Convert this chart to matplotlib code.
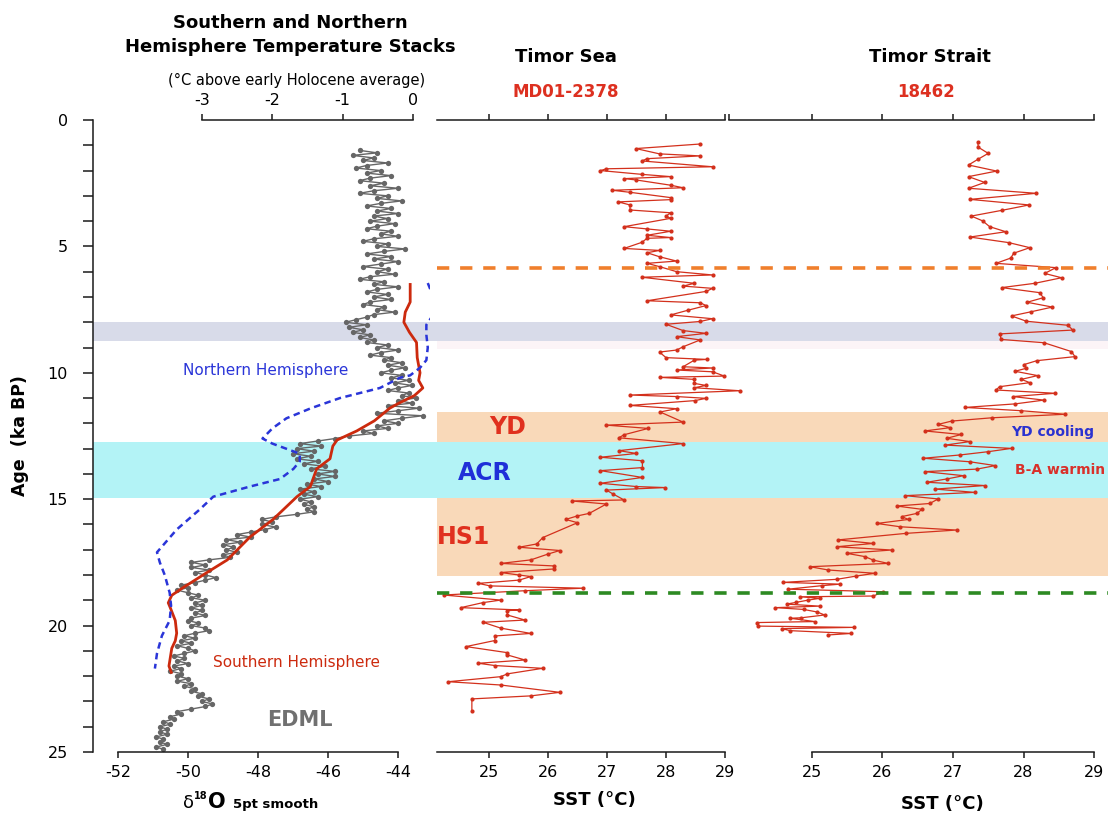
import matplotlib
matplotlib.use('Agg')
import matplotlib.pyplot as plt

# ---------------- data ----------------
edml_age = [1.2,1.3,1.4,1.5,1.6,1.7,1.8,1.9,2.0,2.1,
            2.2,2.3,2.4,2.5,2.6,2.7,2.8,2.9,3.0,3.1,
            3.2,3.3,3.4,3.5,3.6,3.7,3.8,3.9,4.0,4.1,
            4.2,4.3,4.4,4.5,4.6,4.7,4.8,4.9,5.0,5.1,
            5.2,5.3,5.4,5.5,5.6,5.7,5.8,5.9,6.0,6.1,
            6.2,6.3,6.4,6.5,6.6,6.7,6.8,6.9,7.0,7.1,
            7.2,7.3,7.4,7.5,7.6,7.7,7.8,7.9,8.0,8.1,
            8.2,8.3,8.4,8.5,8.6,8.7,8.8,8.9,9.0,9.1,
            9.2,9.3,9.4,9.5,9.6,9.7,9.8,9.9,10.0,10.1,
            10.2,10.3,10.4,10.5,10.6,10.7,10.8,10.9,11.0,11.1,
            11.2,11.3,11.4,11.5,11.6,11.7,11.8,11.9,12.0,12.1,
            12.2,12.3,12.4,12.5,12.6,12.7,12.8,12.9,13.0,13.1,
            13.2,13.3,13.4,13.5,13.6,13.7,13.8,13.9,14.0,14.1,
            14.2,14.3,14.4,14.5,14.6,14.7,14.8,14.9,15.0,15.1,
            15.2,15.3,15.4,15.5,15.6,15.7,15.8,15.9,16.0,16.1,
            16.2,16.3,16.4,16.5,16.6,16.7,16.8,16.9,17.0,17.1,
            17.2,17.3,17.4,17.5,17.6,17.7,17.8,17.9,18.0,18.1,
            18.2,18.3,18.4,18.5,18.6,18.7,18.8,18.9,19.0,19.1,
            19.2,19.3,19.4,19.5,19.6,19.7,19.8,19.9,20.0,20.1,
            20.2,20.3,20.4,20.5,20.6,20.7,20.8,20.9,21.0,21.1,
            21.2,21.3,21.4,21.5,21.6,21.7,21.8,21.9,22.0,22.1,
            22.2,22.3,22.4,22.5,22.6,22.7,22.8,22.9,23.0,23.1,
            23.2,23.3,23.4,23.5,23.6,23.7,23.8,23.9,24.0,24.1,
            24.2,24.3,24.4,24.5,24.6,24.7,24.8,24.9]
edml_d18o = [-45.1,-44.6,-45.3,-44.7,-45.0,-44.3,-44.9,-45.2,-44.5,-44.9,
             -44.2,-44.8,-45.1,-44.4,-44.8,-44.0,-44.7,-45.1,-44.3,-44.6,
             -43.9,-44.5,-44.9,-44.2,-44.6,-44.0,-44.7,-44.3,-44.8,-44.1,
             -44.6,-44.9,-44.2,-44.5,-44.0,-44.7,-45.0,-44.3,-44.6,-43.8,
             -44.4,-44.9,-44.2,-44.7,-44.0,-44.5,-45.0,-44.3,-44.6,-44.1,
             -44.8,-45.1,-44.4,-44.7,-44.0,-44.6,-44.9,-44.3,-44.7,-44.2,
             -44.8,-45.0,-44.4,-44.6,-44.1,-44.7,-44.9,-45.2,-45.5,-44.9,
             -45.4,-45.0,-45.3,-44.8,-45.1,-44.7,-44.9,-44.3,-44.6,-44.0,
             -44.5,-44.8,-44.2,-44.4,-43.9,-44.3,-43.8,-44.2,-44.5,-43.9,
             -44.2,-43.7,-44.1,-43.6,-44.0,-44.3,-43.7,-43.9,-43.5,-44.0,
             -43.6,-44.3,-43.4,-44.0,-44.6,-43.3,-43.9,-44.4,-44.0,-44.6,
             -44.3,-45.0,-44.7,-45.4,-45.8,-46.3,-46.8,-46.2,-46.9,-46.4,
             -47.0,-46.5,-46.9,-46.3,-46.7,-46.1,-46.5,-45.8,-46.3,-45.8,
             -46.4,-46.0,-46.6,-46.2,-46.8,-46.4,-46.7,-46.3,-46.8,-46.5,
             -46.7,-46.4,-46.6,-46.4,-46.9,-47.5,-47.9,-47.6,-47.9,-47.5,
             -47.8,-48.2,-48.6,-48.2,-48.9,-48.5,-49.0,-48.7,-48.9,-48.6,
             -49.0,-48.8,-49.4,-49.9,-49.5,-49.9,-49.4,-49.8,-49.5,-49.2,
             -49.5,-49.8,-50.2,-50.0,-50.3,-50.0,-49.7,-49.9,-49.5,-49.8,
             -49.6,-49.9,-49.6,-49.8,-49.5,-49.9,-50.0,-49.7,-49.9,-49.5,
             -49.4,-49.8,-50.1,-49.8,-50.2,-49.9,-50.3,-50.0,-49.8,-50.1,
             -50.4,-50.1,-50.3,-50.0,-50.4,-50.2,-50.5,-50.2,-50.3,-50.0,
             -50.3,-49.9,-50.1,-49.8,-49.9,-49.6,-49.7,-49.4,-49.6,-49.3,
             -49.5,-49.9,-50.3,-50.2,-50.5,-50.4,-50.7,-50.5,-50.8,-50.6,
             -50.8,-50.6,-50.9,-50.7,-50.8,-50.6,-50.9,-50.7]

sh_age = [6.45,7.2,7.6,8.0,8.4,8.8,9.4,10.0,10.3,10.6,10.9,11.2,11.4,11.9,12.3,12.66,
          12.9,13.4,13.8,14.5,14.9,15.8,16.5,17.4,17.9,18.5,18.8,19.1,19.3,19.8,20.3,
          20.6,20.9,21.6,21.9]
sh_temp = [-0.04,-0.04,-0.11,-0.13,-0.05,0.05,0.06,0.10,0.08,0.14,0.02,-0.20,-0.33,-0.55,
           -0.80,-1.08,-1.14,-1.18,-1.37,-1.46,-1.65,-1.99,-2.32,-2.64,-2.93,-3.27,-3.43,
           -3.48,-3.45,-3.38,-3.36,-3.38,-3.43,-3.47,-3.43]

nh_age = [6.45,7.0,7.7,8.1,8.5,9.0,9.5,9.8,10.1,10.2,10.6,11.0,11.4,11.8,12.2,12.6,12.8,
          13.2,13.5,13.8,14.2,14.5,14.9,15.4,16.2,17.1,17.5,18.0,18.7,19.2,19.8,20.4,
          21.1,21.7]
nh_temp = [0.21,0.29,0.29,0.19,0.19,0.21,0.19,0.10,-0.04,-0.19,-0.47,-1.04,-1.45,-1.80,
           -2.00,-2.14,-2.00,-1.61,-1.61,-1.70,-1.89,-2.32,-2.84,-3.03,-3.36,-3.64,-3.60,
           -3.53,-3.46,-3.44,-3.46,-3.57,-3.64,-3.67]

sea_age = [0.95,1.13,1.34,1.42,1.53,1.62,1.85,1.93,2.00,2.15,2.24,2.32,2.37,2.58,2.68,2.78,
           2.86,3.07,3.15,3.24,3.36,3.56,3.67,3.80,3.89,4.22,4.31,4.40,4.56,4.65,4.68,4.84,
           5.08,5.16,5.25,5.41,5.58,5.67,5.80,6.00,6.13,6.22,6.46,6.57,6.66,6.78,7.15,7.23,
           7.34,7.52,7.71,7.86,7.97,8.08,8.33,8.44,8.57,8.70,8.97,9.10,9.18,9.40,9.47,9.50,
           9.76,9.81,9.89,9.96,10.13,10.18,10.26,10.42,10.50,10.59,10.71,10.88,10.94,11.01,
           11.10,11.29,11.42,11.55,11.95,12.07,12.20,12.45,12.57,12.80,13.08,13.19,13.34,
           13.48,13.75,13.87,14.14,14.37,14.50,14.54,14.64,14.79,15.03,15.07,15.19,15.56,
           15.66,15.80,15.93,16.52,16.77,16.90,17.03,17.17,17.40,17.54,17.64,17.76,17.90,
           18.00,18.06,18.20,18.33,18.43,18.52,18.62,18.79,18.99,19.09,19.29,19.38,19.41,
           19.58,19.78,19.87,20.10,20.31,20.41,20.59,20.83,21.07,21.16,21.36,21.49,21.58,
           21.69,21.91,22.02,22.22,22.35,22.64,22.78,22.90,23.36]
sea_sst = [28.58,27.49,27.89,28.58,27.68,27.59,28.79,26.99,26.89,27.59,28.08,27.29,27.49,
           28.08,28.29,27.09,27.39,28.08,28.08,27.19,27.39,27.39,28.08,28.00,28.08,27.29,
           27.68,28.08,27.68,28.08,27.68,27.59,27.29,27.89,27.68,27.89,28.18,27.68,27.89,
           28.18,28.79,27.59,28.48,28.29,28.79,28.68,27.68,28.58,28.68,28.38,28.08,28.79,
           28.58,28.00,28.29,28.68,28.18,28.58,28.29,28.18,27.89,28.00,28.69,28.48,28.29,
           28.79,28.18,28.79,28.99,27.89,28.48,28.48,28.68,28.48,29.25,27.39,28.18,28.68,
           28.49,27.39,28.18,27.90,28.29,26.99,27.70,27.29,27.20,28.29,27.20,27.50,26.89,
           27.60,27.60,26.89,27.60,26.89,27.50,27.99,26.99,27.10,27.29,26.40,26.99,26.70,
           26.50,26.30,26.50,25.91,25.81,25.51,26.20,26.00,25.71,25.20,26.10,26.10,25.20,
           25.51,25.71,25.51,24.82,25.02,26.60,25.61,24.23,25.20,24.90,24.52,25.51,25.31,
           25.31,25.61,24.90,25.20,25.71,25.10,25.10,24.61,25.31,25.31,25.61,24.82,25.10,
           25.91,25.31,25.20,24.31,25.20,26.20,25.71,24.71,24.71]

strait_age = [0.86,1.08,1.32,1.56,1.78,2.02,2.24,2.47,2.70,2.90,3.14,3.36,3.57,3.80,3.99,
              4.22,4.42,4.63,4.85,5.05,5.27,5.46,5.67,5.84,6.07,6.24,6.46,6.63,6.83,7.03,
              7.21,7.40,7.59,7.75,7.96,8.12,8.31,8.46,8.68,8.81,9.16,9.36,9.52,9.68,9.82,
              9.94,10.11,10.26,10.39,10.55,10.68,10.81,10.94,11.08,11.23,11.37,11.50,11.64,
              11.78,11.91,12.04,12.17,12.30,12.44,12.59,12.72,12.86,12.99,13.12,13.25,13.38,
              13.52,13.67,13.81,13.91,14.07,14.20,14.33,14.46,14.60,14.73,14.86,14.99,15.17,
              15.27,15.40,15.56,15.69,15.80,15.96,16.09,16.22,16.35,16.61,16.75,16.88,17.01,
              17.14,17.27,17.41,17.54,17.67,17.80,17.93,18.04,18.17,18.29,18.36,18.42,18.56,
              18.66,18.83,18.86,18.92,18.99,19.08,19.15,19.23,19.29,19.36,19.46,19.58,19.69,
              19.71,19.84,19.88,20.02,20.07,20.12,20.20,20.31,20.37]
strait_sst = [27.35,27.36,27.50,27.35,27.22,27.62,27.22,27.45,27.22,28.18,27.24,28.08,27.70,
              27.26,27.42,27.52,27.75,27.24,27.79,28.09,27.86,27.82,27.61,28.46,28.30,28.54,
              28.16,27.69,28.23,28.28,28.05,28.41,28.10,27.83,28.04,28.63,28.70,27.67,27.68,
              28.29,28.68,28.73,28.19,28.00,28.04,27.88,28.20,27.97,28.09,27.66,27.61,28.45,
              27.85,28.29,27.88,27.17,27.97,28.59,27.55,26.98,26.79,26.96,26.60,27.12,26.91,
              27.24,26.89,27.83,27.50,27.10,26.58,27.24,27.60,27.34,26.60,27.15,26.91,26.63,
              27.45,26.75,27.31,26.32,26.79,26.67,26.20,26.56,26.49,26.27,26.37,25.92,26.25,
              27.05,26.34,25.37,25.87,25.35,26.13,25.49,25.75,25.87,26.08,24.97,25.23,25.89,
              25.63,25.35,24.59,25.40,25.14,24.66,26.01,25.87,24.83,25.11,24.95,24.78,24.64,
              25.11,24.48,24.88,25.07,25.18,24.85,24.69,25.04,24.22,24.24,25.59,24.57,24.69,
              25.56,25.23]

# event intervals (ka BP)
lavender_band = (8.0, 8.75)
pink_band = (8.75, 9.05)
yd_band = (11.55, 12.75)
acr_band = (12.75, 14.95)
hs1_band = (14.95, 18.05)
orange_line_age = 5.85
green_line_age = 18.71

age_ticks_major = [0, 5, 10, 15, 20, 25]
age_ticks_minor = list(range(0, 26))
d18o_ticks = [-52, -50, -48, -46, -44]
temp_ticks = [-3, -2, -1, 0]
sst_ticks = [25, 26, 27, 28, 29]

# ---------------- layout helpers ----------------
W, H = 1108, 814
fig = plt.figure(figsize=(W / 100, H / 100), dpi=100)
plt.rcParams['font.family'] = ['DejaVu Sans']

Y0, Y1 = 120, 752


def rect(x0, x1):
    return [x0 / W, 1 - Y1 / H, (x1 - x0) / W, (Y1 - Y0) / H]


def fx(px):
    return px / W


def fy(py):
    return 1 - py / H


BLACK = '#1a1a1a'

# background bands
bg = fig.add_axes(rect(93, 1108))
bg.set_xlim(93, 1108)
bg.set_ylim(25, 0)
bg.axis('off')
bg.set_zorder(0)
bg.fill_between([93, 1108], *lavender_band, color='#d8dbe9', lw=0)
bg.fill_between([437, 1108], *pink_band, color='#fcf4f7', lw=0)
bg.fill_between([93, 1108], *acr_band, color='#b3f3f6', lw=0)
bg.fill_between([437, 1108], *yd_band, color='#f9d9b9', lw=0)
bg.fill_between([437, 1108], *hs1_band, color='#f9d9b9', lw=0)

# ---------------- EDML panel ----------------
ax1 = fig.add_axes(rect(93, 430))
ax1.set_zorder(1)
ax1.patch.set_visible(False)
ax1.set_xlim(-52.714, -43.086)
ax1.set_ylim(25, 0)
ax1.plot(edml_d18o, edml_age, '-o', color='#666666', ms=3.8, lw=1.0, mew=0)
for s in ['top', 'right']:
    ax1.spines[s].set_visible(False)
ax1.spines['left'].set_bounds(0, 25)
ax1.spines['bottom'].set_bounds(-52, -44)
for s in ['left', 'bottom']:
    ax1.spines[s].set_linewidth(1.1)
    ax1.spines[s].set_color(BLACK)
ax1.set_yticks(age_ticks_major)
ax1.set_yticks(age_ticks_minor, minor=True)
ax1.tick_params(axis='y', which='both', length=7, width=1.1, color=BLACK,
                labelsize=11.5, pad=11)
ax1.set_xticks(d18o_ticks)
ax1.set_xticklabels([str(t) for t in d18o_ticks])
ax1.tick_params(axis='x', length=4.5, width=1.1, color=BLACK, labelsize=11.5, pad=5)

ax1t = ax1.twiny()
ax1t.set_xlim(-4.550, 0.2417)
ax1t.set_ylim(25, 0)
for s in ['bottom', 'left', 'right']:
    ax1t.spines[s].set_visible(False)
ax1t.spines['top'].set_bounds(-3, 0)
ax1t.spines['top'].set_linewidth(1.1)
ax1t.spines['top'].set_color(BLACK)
ax1t.set_xticks(temp_ticks)
ax1t.set_xticklabels([str(t) for t in temp_ticks])
ax1t.tick_params(axis='x', length=4.5, width=1.1, color=BLACK, labelsize=11.5, pad=4)
ax1t.plot(sh_temp, sh_age, color='#cc2a0e', lw=2.0, solid_capstyle='butt')
ax1t.plot(nh_temp, nh_age, color='#2a35d8', lw=1.8, ls=(0, (2.6, 1.8)))

# ---------------- Timor Sea panel ----------------
ax2 = fig.add_axes(rect(437, 727))
ax2.set_zorder(1)
ax2.patch.set_visible(False)
ax2.set_xlim(24.119, 29.034)
ax2.set_ylim(25, 0)
ax2.plot(sea_sst, sea_age, '-o', color='#d3301c', ms=3.0, lw=0.9, mew=0, clip_on=False)
for s in ['left', 'right']:
    ax2.spines[s].set_visible(False)
for s in ['top', 'bottom']:
    ax2.spines[s].set_bounds(24.119, 29)
    ax2.spines[s].set_linewidth(1.1)
    ax2.spines[s].set_color(BLACK)
ax2.set_yticks([])
ax2.set_xticks(sst_ticks)
ax2.tick_params(axis='x', which='both', top=True, labeltop=False, length=4.5, width=1.1,
                color=BLACK, labelsize=11.5, pad=5)

# ---------------- Timor Strait panel ----------------
ax3 = fig.add_axes(rect(729, 1100))
ax3.set_zorder(1)
ax3.patch.set_visible(False)
ax3.set_xlim(23.823, 29.085)
ax3.set_ylim(25, 0)
ax3.plot(strait_sst, strait_age, '-o', color='#d3301c', ms=3.0, lw=0.9, mew=0, clip_on=False)
for s in ['left', 'right']:
    ax3.spines[s].set_visible(False)
ax3.spines['bottom'].set_bounds(25, 29)
ax3.spines['top'].set_bounds(23.83, 29)
for s in ['top', 'bottom']:
    ax3.spines[s].set_linewidth(1.1)
    ax3.spines[s].set_color(BLACK)
ax3.set_yticks([])
ax3.set_xticks(sst_ticks)
ax3.tick_params(axis='x', which='both', top=True, labeltop=False, length=4.5, width=1.1,
                color=BLACK, labelsize=11.5, pad=5)
# small upturned end tick at the left end of the top axis
ax3.set_xticks([23.83], minor=True)
ax3.tick_params(axis='x', which='minor', top=True, bottom=False, labeltop=False,
                labelbottom=False, length=4.5, width=1.1, color=BLACK)

# ---------------- dashed event lines (on top) ----------------
fg = fig.add_axes(rect(93, 1108))
fg.set_xlim(93, 1108)
fg.set_ylim(25, 0)
fg.axis('off')
fg.set_zorder(3)
fg.plot([437, 1108], [orange_line_age] * 2, color='#f07f2c', lw=2.6, ls=(0, (3.4, 3.0)))
fg.plot([437, 1108], [green_line_age] * 2, color='#2d8a22', lw=2.6, ls=(0, (3.4, 3.0)))

# ---------------- texts ----------------
fig.text(fx(290), fy(23), 'Southern and Northern', ha='center', va='center',
         fontsize=13, fontweight='bold')
fig.text(fx(290), fy(47), 'Hemisphere Temperature Stacks', ha='center', va='center',
         fontsize=13, fontweight='bold')
fig.text(fx(297), fy(80), '(°C above early Holocene average)', ha='center', va='center',
         fontsize=10.5)
fig.text(fx(566), fy(57), 'Timor Sea', ha='center', va='center', fontsize=13, fontweight='bold')
fig.text(fx(566), fy(92), 'MD01-2378', ha='center', va='center', fontsize=12,
         fontweight='bold', color='#dd3020')
fig.text(fx(930), fy(57), 'Timor Strait', ha='center', va='center', fontsize=13, fontweight='bold')
fig.text(fx(926), fy(92), '18462', ha='center', va='center', fontsize=12,
         fontweight='bold', color='#dd3020')

fig.text(fx(20), fy(436), 'Age  (ka BP)', ha='center', va='center', rotation=90,
         fontsize=12.5, fontweight='bold')

fig.text(fx(183), fy(808), 'δ', ha='left', va='baseline', fontsize=13)
fig.text(fx(194), fy(799), '18', ha='left', va='baseline', fontsize=7, fontweight='bold')
fig.text(fx(208), fy(808), 'O', ha='left', va='baseline', fontsize=15, fontweight='bold')
fig.text(fx(233), fy(808), '5pt smooth', ha='left', va='baseline', fontsize=9.5,
         fontweight='bold')
fig.text(fx(594), fy(800), 'SST (°C)', ha='center', va='center', fontsize=13, fontweight='bold')
fig.text(fx(942), fy(804), 'SST (°C)', ha='center', va='center', fontsize=13, fontweight='bold')

fig.text(fx(183), fy(371), 'Northern Hemisphere', ha='left', va='center', fontsize=11,
         color='#2a35d8')
fig.text(fx(213), fy(663), 'Southern Hemisphere', ha='left', va='center', fontsize=11,
         color='#cc2a0e')
fig.text(fx(300), fy(720), 'EDML', ha='center', va='center', fontsize=15, fontweight='bold',
         color='#707070')

fig.text(fx(508), fy(427), 'YD', ha='center', va='center', fontsize=17, fontweight='bold',
         color='#e0301e', zorder=5)
fig.text(fx(485), fy(473), 'ACR', ha='center', va='center', fontsize=17, fontweight='bold',
         color='#1f2fd8', zorder=5)
fig.text(fx(437), fy(537), 'HS1', ha='left', va='center', fontsize=17, fontweight='bold',
         color='#e0301e', zorder=5)
fig.text(fx(1053), fy(432), 'YD cooling', ha='center', va='center', fontsize=10,
         fontweight='bold', color='#2b32d0', zorder=5)
# the reference shows this label cut at the right border: "B-A warmin"
fig.text(fx(1105), fy(470), 'B-A warmin', ha='right', va='center', fontsize=10,
         fontweight='bold', color='#d9302a', zorder=5)

fig.savefig('out.png', dpi=100)
